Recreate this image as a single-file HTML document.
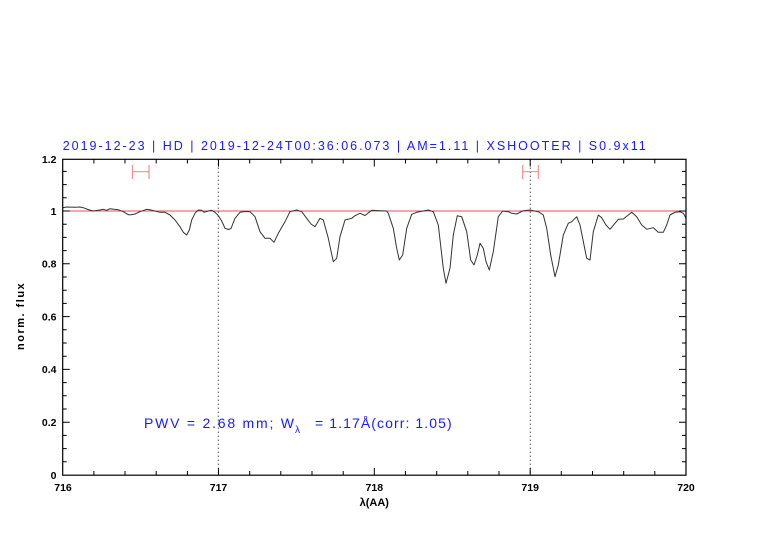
<!DOCTYPE html>
<html>
<head>
<meta charset="utf-8">
<style>
  html, body { margin: 0; padding: 0; background: #ffffff; }
  svg { display: block; }
  text { font-family: "Liberation Sans", sans-serif; }
</style>
</head>
<body>
<svg xmlns="http://www.w3.org/2000/svg" width="782" height="542" viewBox="0 0 782 542">
  <rect x="0" y="0" width="782" height="542" fill="#ffffff"/>

  <text x="62.7" y="150" font-size="12.5" fill="#1a1aff" textLength="583" lengthAdjust="spacing">2019-12-23 | HD | 2019-12-24T00:36:06.073 | AM=1.11 | XSHOOTER | S0.9x11</text>

  <line x1="62.7" y1="211" x2="686" y2="211" stroke="#e05050" stroke-width="1"/>

  <line x1="218.3" y1="159.5" x2="218.3" y2="475" stroke="#555" stroke-width="1" stroke-dasharray="1.5,2.5"/>
  <line x1="530.3" y1="159.5" x2="530.3" y2="475" stroke="#555" stroke-width="1" stroke-dasharray="1.5,2.5"/>

  <path d="M132.5 171.7H149M132.5 165V179M149 165V179M522.7 171.7H538.3M522.7 165V179M538.3 165V179" stroke="#f29090" stroke-width="1.2" fill="none"/>

  <polyline fill="none" stroke="#333" stroke-width="1" stroke-linejoin="round" points="62.7,207.7 66.7,207 75,207.3 80,207 83.3,207.7 88,209.5 93.3,211 100,210 103.3,209.3 106.7,210.3 110,208.7 114,209.3 118.3,209.7 123.3,211.7 128.3,214.7 131,214.8 135,214 140,211.7 146.7,209.3 151,210 155,211 160,212.3 165,212.3 170,215 175,220 180,226.7 183.3,232.3 186.7,235 189.3,230 191.7,220 195,213.3 198.3,210 201.7,210.3 204,212.3 208.3,211 211.7,210.3 215,212.3 218.3,215.7 221.7,221 225,228.3 228.3,229.5 231,228.5 235,218.3 240,212.3 245,211.5 250,211.7 255,216.7 260,231.7 265,238.3 270,238.3 274,242.3 278.3,233.3 285,221.7 290,211.7 296.7,210 301.7,211.7 306.7,218.3 311,224 315,226.7 320,218.3 323.3,220 328.3,238.3 333.3,261.7 336.7,258.3 340,236.7 345,220 351.7,218.3 355,215.7 360,213.3 365,215.5 371.7,210.3 380,210.7 386.7,211 388.3,213.3 393.3,228.3 396.7,248.3 399.3,260 402.7,255 406.7,228.3 411.7,214.3 416.7,212.3 423.3,211 428.3,210 433.3,211.7 438.3,225 443.3,268.3 446,283.3 450,268.3 453.3,235 457.3,215.7 461.7,216.7 466.7,231.7 470.7,260 474,265 477.3,255 480,243.3 483.3,248.3 486,261.7 489.3,270 493.3,251.7 498.3,216.7 502.7,211 508.3,211.7 511.7,213.3 516.7,214 523.3,210.7 530,210 538.3,211.7 543.3,215 546.7,228.3 550.7,255 555,276.7 558.3,265 563.3,235 568.3,223.3 571.7,221.7 576.7,216.7 580,225 584,245 586.7,258.3 590,260 593.3,231.7 598.3,215 601.7,217.7 606,225 610,229.3 615,223.3 618.3,219.3 623.3,219 628.3,215 631.7,212.3 636.7,216.7 641.7,225 646.7,229.3 653.3,227.7 658.3,232.3 663.3,232.3 666.7,225 670,215 675,212.3 680,211.7 683.3,213.3 686,218.3"/>

  <rect x="62.7" y="159.3" width="623.3" height="315.9" fill="none" stroke="#000" stroke-width="1.2"/>

  <!-- x ticks -->
  <path stroke="#000" stroke-width="1" fill="none" d="M218.5 475v-7M374.3 475v-7M530.2 475v-7M218.5 159.5v7M374.3 159.5v7M530.2 159.5v7M93.9 475v-4M125 475v-4M156.2 475v-4M187.4 475v-4M249.7 475v-4M280.8 475v-4M312 475v-4M343.2 475v-4M405.5 475v-4M436.7 475v-4M467.8 475v-4M499 475v-4M561.3 475v-4M592.5 475v-4M623.7 475v-4M654.8 475v-4M93.9 159.5v4M125 159.5v4M156.2 159.5v4M187.4 159.5v4M249.7 159.5v4M280.8 159.5v4M312 159.5v4M343.2 159.5v4M405.5 159.5v4M436.7 159.5v4M467.8 159.5v4M499 159.5v4M561.3 159.5v4M592.5 159.5v4M623.7 159.5v4M654.8 159.5v4"/>

  <!-- y ticks -->
  <path stroke="#000" stroke-width="1" fill="none" d="M62.7 422.2h7M62.7 369.4h7M62.7 316.6h7M62.7 263.8h7M62.7 211h7M686 422.2h-7M686 369.4h-7M686 316.6h-7M686 263.8h-7M686 211h-7M62.7 461.8h4M62.7 448.6h4M62.7 435.4h4M62.7 409h4M62.7 395.8h4M62.7 382.6h4M62.7 356.2h4M62.7 343h4M62.7 329.8h4M62.7 303.4h4M62.7 290.2h4M62.7 277h4M62.7 250.6h4M62.7 237.4h4M62.7 224.2h4M62.7 197.8h4M62.7 184.6h4M62.7 171.4h4M686 461.8h-4M686 448.6h-4M686 435.4h-4M686 409h-4M686 395.8h-4M686 382.6h-4M686 356.2h-4M686 343h-4M686 329.8h-4M686 303.4h-4M686 290.2h-4M686 277h-4M686 250.6h-4M686 237.4h-4M686 224.2h-4M686 197.8h-4M686 184.6h-4M686 171.4h-4"/>

  <g font-size="10.5" font-weight="bold" fill="#000" text-anchor="end">
    <text x="56.5" y="478.8">0</text>
    <text x="56.5" y="426">0.2</text>
    <text x="56.5" y="373.2">0.4</text>
    <text x="56.5" y="320.4">0.6</text>
    <text x="56.5" y="267.6">0.8</text>
    <text x="56.5" y="214.8">1</text>
    <text x="56.5" y="163">1.2</text>
  </g>

  <g font-size="10.5" font-weight="bold" fill="#000" text-anchor="middle">
    <text x="63" y="491">716</text>
    <text x="218.5" y="491">717</text>
    <text x="374.3" y="491">718</text>
    <text x="530.2" y="491">719</text>
    <text x="686" y="491">720</text>
  </g>

  <text x="374.3" y="506" font-size="11" font-weight="bold" fill="#000" text-anchor="middle">λ(AA)</text>
  <text transform="translate(24,350) rotate(-90)" x="0" y="0" font-size="11" font-weight="bold" fill="#000" textLength="66.7" lengthAdjust="spacing">norm. flux</text>

  <g fill="#1a1aff">
    <text x="144" y="428" font-size="14" textLength="150" lengthAdjust="spacing">PWV = 2.68 mm; W</text>
    <text x="295" y="433" font-size="10">λ</text>
    <text x="315" y="428" font-size="14" textLength="136.7" lengthAdjust="spacing">= 1.17Å(corr: 1.05)</text>
  </g>
</svg>
</body>
</html>
